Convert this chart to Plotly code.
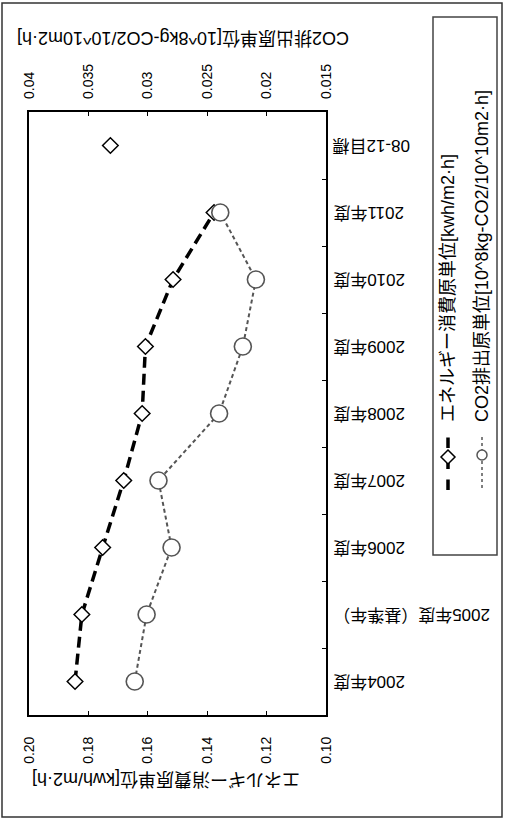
import plotly.graph_objects as go

# ---------------- data ----------------
categories = ["2004年度", "2005年度（基準年）", "2006年度", "2007年度", "2008年度",
              "2009年度", "2010年度", "2011年度", "08-12目標"]
year_categories = categories[:8]
energy_values = [0.1845, 0.1822, 0.1752, 0.1681, 0.1619, 0.1608, 0.1515, 0.1377]
target_categories = ["08-12目標"]
target_values = [0.1726]
co2_values = [0.0311, 0.0301, 0.0280, 0.0291, 0.0240, 0.0220, 0.0209, 0.0239]

energy_tickvals = [0.20, 0.18, 0.16, 0.14, 0.12, 0.10]
energy_ticktext = ["0.20", "0.18", "0.16", "0.14", "0.12", "0.10"]
co2_tickvals = [0.04, 0.035, 0.03, 0.025, 0.02, 0.015]
co2_ticktext = ["0.04", "0.035", "0.03", "0.025", "0.02", "0.015"]

energy_name = "エネルギー消費原単位[kwh/m2·h]"
co2_name = "CO2排出原単位[10^8kg-CO2/10^10m2·h]"

# ---------------- layout helpers ----------------
W, H = 509, 820
FONT = "Liberation Sans, Arial, Noto Sans CJK JP, sans-serif"


def px(x):
    return x / W


def py(y):
    return 1 - y / H


plot_l, plot_r, plot_t, plot_b = 29, 326, 112, 715

fig = go.Figure()

fig.add_trace(go.Scatter(
    x=energy_values, y=year_categories, xaxis="x", yaxis="y",
    mode="lines+markers", name=energy_name,
    line=dict(color="black", width=3.5, dash="11px,6px"),
    marker=dict(symbol="diamond", size=12, color="white",
                line=dict(color="black", width=1.5)),
))
fig.add_trace(go.Scatter(
    x=target_values, y=target_categories, xaxis="x", yaxis="y",
    mode="markers", name="target", showlegend=False,
    marker=dict(symbol="diamond", size=12, color="white",
                line=dict(color="black", width=1.5)),
))
fig.add_trace(go.Scatter(
    x=co2_values, y=year_categories, xaxis="x2", yaxis="y",
    mode="lines+markers", name=co2_name,
    line=dict(color="#555555", width=2, dash="4px,3px"),
    marker=dict(symbol="circle", size=17, color="white",
                line=dict(color="#555555", width=1.6)),
))

axis_font = dict(family=FONT, size=14, color="black")

fig.update_layout(
    template="none",
    width=W, height=H,
    margin=dict(l=0, r=0, t=0, b=0),
    paper_bgcolor="white", plot_bgcolor="white",
    showlegend=False,
    font=dict(family=FONT, color="black"),
    xaxis=dict(
        domain=[px(plot_l), px(plot_r)],
        range=[0.20, 0.10], autorange=False,
        tickmode="array", tickvals=energy_tickvals, ticktext=energy_ticktext,
        tickangle=-90, tickfont=axis_font,
        ticks="inside", ticklen=4, tickcolor="black", tickwidth=1,
        showline=True, linecolor="black", linewidth=2, mirror=True,
        showgrid=False, zeroline=False, automargin=False,
        ticklabelstandoff=14,
    ),
    xaxis2=dict(
        overlaying="x", side="top",
        range=[0.04, 0.015], autorange=False,
        tickmode="array", tickvals=co2_tickvals, ticktext=co2_ticktext,
        tickangle=-90, tickfont=axis_font,
        ticks="inside", ticklen=4, tickcolor="black", tickwidth=1,
        showline=False, showgrid=False, zeroline=False, automargin=False,
        ticklabelstandoff=12,
    ),
    yaxis=dict(
        domain=[py(plot_b), py(plot_t)],
        type="category", categoryorder="array", categoryarray=categories,
        range=[-0.5, len(categories) - 0.5], autorange=False,
        side="right", showticklabels=False,
        ticks="inside", tickson="boundaries", ticklen=4, tickcolor="black",
        showline=True, linecolor="black", linewidth=2, mirror=True,
        showgrid=False, zeroline=False, automargin=False,
    ),
)

annotations = [
    dict(text=energy_name, x=px(166), y=py(779), xref="paper", yref="paper",
         showarrow=False, textangle=180, xanchor="center", yanchor="middle",
         font=dict(family=FONT, size=18, color="black")),
    dict(text=co2_name, x=px(183), y=py(38), xref="paper", yref="paper",
         showarrow=False, textangle=180, xanchor="center", yanchor="middle",
         font=dict(family=FONT, size=18, color="black")),
    dict(text=energy_name, x=px(448), y=py(288), xref="paper", yref="paper",
         showarrow=False, textangle=-90, xanchor="center", yanchor="middle",
         font=dict(family=FONT, size=18, color="black")),
    dict(text=co2_name, x=px(482), y=py(256), xref="paper", yref="paper",
         showarrow=False, textangle=-90, xanchor="center", yanchor="middle",
         font=dict(family=FONT, size=18, color="black")),
]
# category labels (drawn upside down like the reference)
for cat in categories:
    annotations.append(dict(
        text=cat, x=px(331), y=cat, xref="paper", yref="y",
        showarrow=False, textangle=180, xanchor="left", yanchor="middle",
        font=dict(family=FONT, size=17, color="black")))
fig.update_layout(annotations=annotations)

shapes = [
    # outer frame
    dict(type="rect", xref="paper", yref="paper",
         x0=px(2), x1=px(502), y0=py(817), y1=py(3),
         line=dict(color="#333333", width=1.5)),
    # legend box
    dict(type="rect", xref="paper", yref="paper",
         x0=px(433), x1=px(497), y0=py(555), y1=py(17),
         line=dict(color="#444444", width=1.5)),
    # legend sample: energy
    dict(type="line", xref="paper", yref="paper",
         x0=px(448), x1=px(448), y0=py(490), y1=py(434),
         line=dict(color="black", width=3.5, dash="dash")),
    dict(type="path", xref="paper", yref="paper",
         path=(f"M {px(448)},{py(450)} L {px(455)},{py(457)} "
               f"L {px(448)},{py(464)} L {px(441)},{py(457)} Z"),
         fillcolor="white", line=dict(color="black", width=1.5)),
    # legend sample: co2
    dict(type="line", xref="paper", yref="paper",
         x0=px(482), x1=px(482), y0=py(488), y1=py(434),
         line=dict(color="#555555", width=1.5, dash="dot")),
    dict(type="circle", xref="paper", yref="paper",
         x0=px(477), x1=px(487), y0=py(460), y1=py(450),
         fillcolor="white", line=dict(color="#555555", width=1.5)),
]
fig.update_layout(shapes=shapes)

fig.write_html("out.html", config={"displayModeBar": False},
               post_script="document.body.style.margin='0';")
